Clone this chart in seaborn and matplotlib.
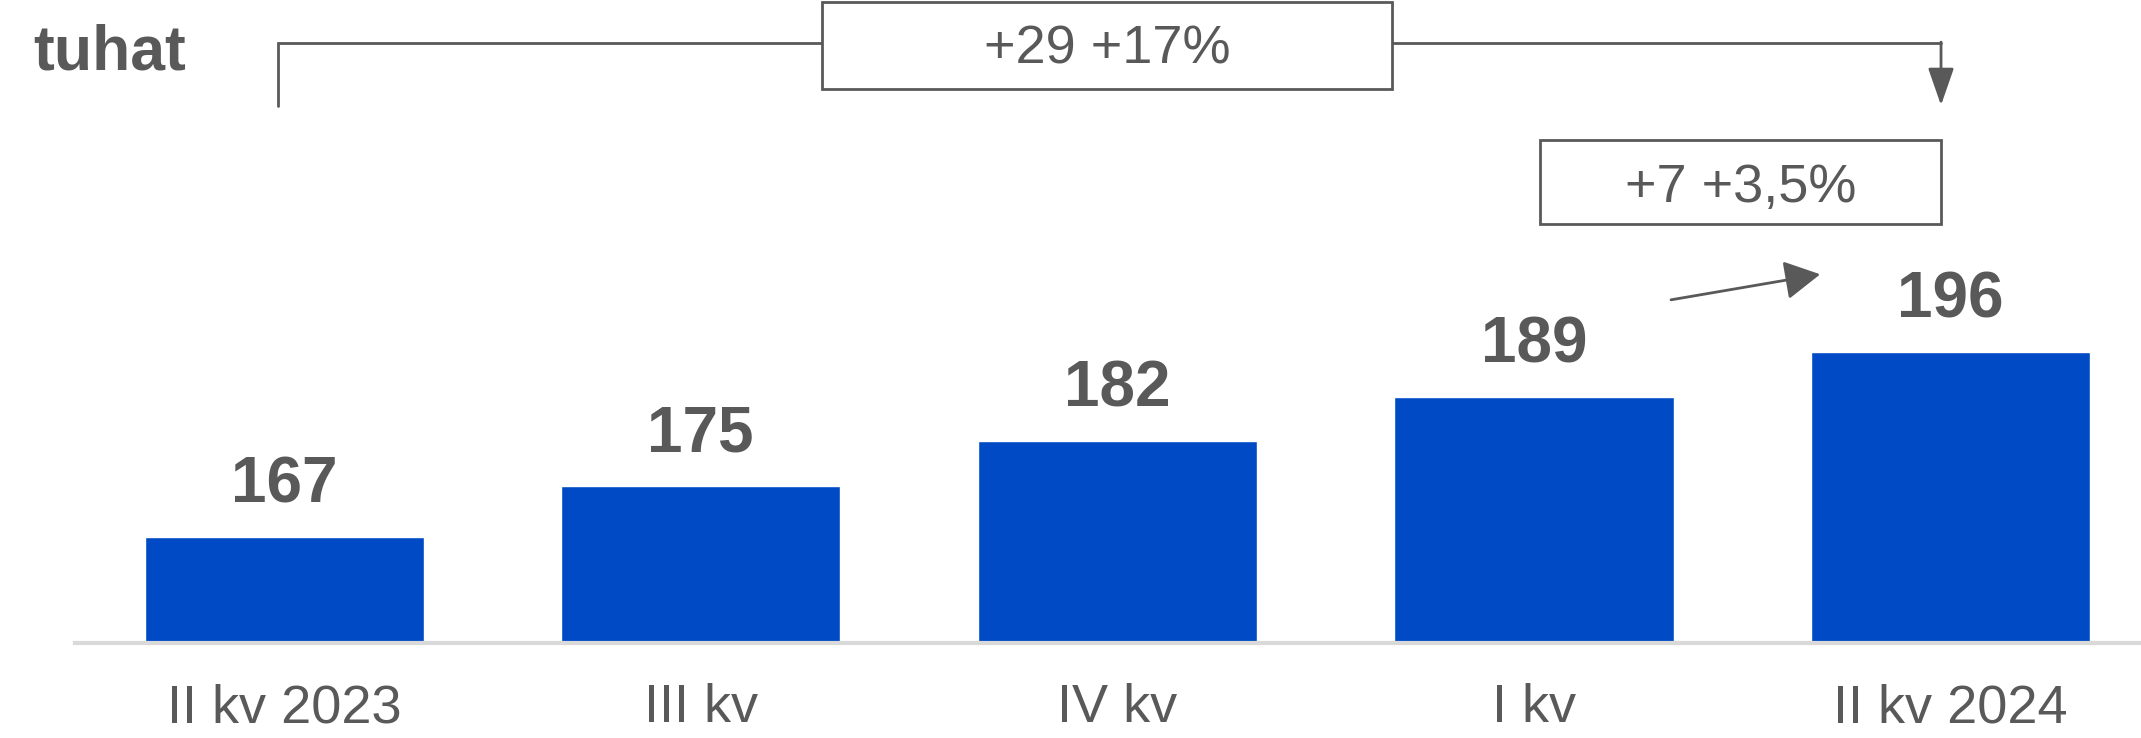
import numpy as np
import pandas as pd
import seaborn as sns
import matplotlib.pyplot as plt
from matplotlib.patches import Rectangle

# data
quarters = ["II kv 2023", "III kv", "IV kv", "I kv", "II kv 2024"]
employed = [167, 175, 182, 189, 196]
unit_label = "tuhat"
change_year = "+29 +17%"
change_quarter = "+7 +3,5%"

sns.set_theme(style="white")
plt.rcParams["font.family"] = ["Liberation Sans", "DejaVu Sans"]

grey = "#595959"
blue = "#004BC5"

fig = plt.figure(figsize=(21.41, 7.38), dpi=100)
ax = fig.add_axes([0.035, 0.1287, 0.965, 0.8713])

df = pd.DataFrame({"quarter": quarters, "value": employed})
sns.barplot(data=df, x="quarter", y="value", color=blue, saturation=1,
            width=0.67, ax=ax)

ax.set_ylim(150.4, 251.2)
ax.set_xlim(-0.502, 4.457)
ax.set_xlabel("")
ax.set_ylabel("")
ax.set_yticks([])
ax.tick_params(axis="x", length=0, pad=29, labelsize=39, labelcolor=grey)
for s in ["left", "top", "right"]:
    ax.spines[s].set_visible(False)
ax.spines["bottom"].set_color("#D9D9D9")
ax.spines["bottom"].set_linewidth(3)

# value labels
for i, v in enumerate(employed):
    ax.annotate(str(v), (i, v), xytext=(0, 25), textcoords="offset points",
                ha="center", va="baseline", fontsize=46, fontweight="bold",
                color=grey)

fig.text(33 / 2141, 1 - 69 / 738, unit_label, ha="left", va="baseline",
         fontsize=45, fontweight="bold", color=grey)

# year-on-year bracket
ax.plot([-0.015, -0.015, 3.977], [234.6, 244.5, 244.5], color=grey, lw=2,
        clip_on=False, solid_joinstyle="miter", zorder=2)
ax.annotate("", xy=(3.977, 234.7), xytext=(3.977, 244.6),
            arrowprops=dict(arrowstyle="-|>,head_length=23,head_width=8",
                            mutation_scale=1, color=grey, lw=2,
                            shrinkA=0, shrinkB=0),
            annotation_clip=False)
ax.add_patch(Rectangle((1.291, 237.3), 1.369, 13.6, facecolor="white",
                       edgecolor=grey, lw=2, clip_on=False, zorder=3))
ax.text(1.975, 241.3, change_year, ha="center", va="baseline", fontsize=39,
        color=grey, zorder=4)

# quarter change
ax.add_patch(Rectangle((3.015, 216.1), 0.962, 13.2, facecolor="white",
                       edgecolor=grey, lw=2, clip_on=False, zorder=3))
ax.text(3.496, 219.5, change_quarter, ha="center", va="baseline", fontsize=39,
        color=grey, zorder=4)
ax.annotate("", xy=(3.687, 208.2), xytext=(3.329, 204.2),
            arrowprops=dict(arrowstyle="-|>,head_length=22,head_width=12",
                            mutation_scale=1, color=grey, lw=2,
                            shrinkA=0, shrinkB=0),
            annotation_clip=False)

fig.savefig("out.png", dpi=100)
